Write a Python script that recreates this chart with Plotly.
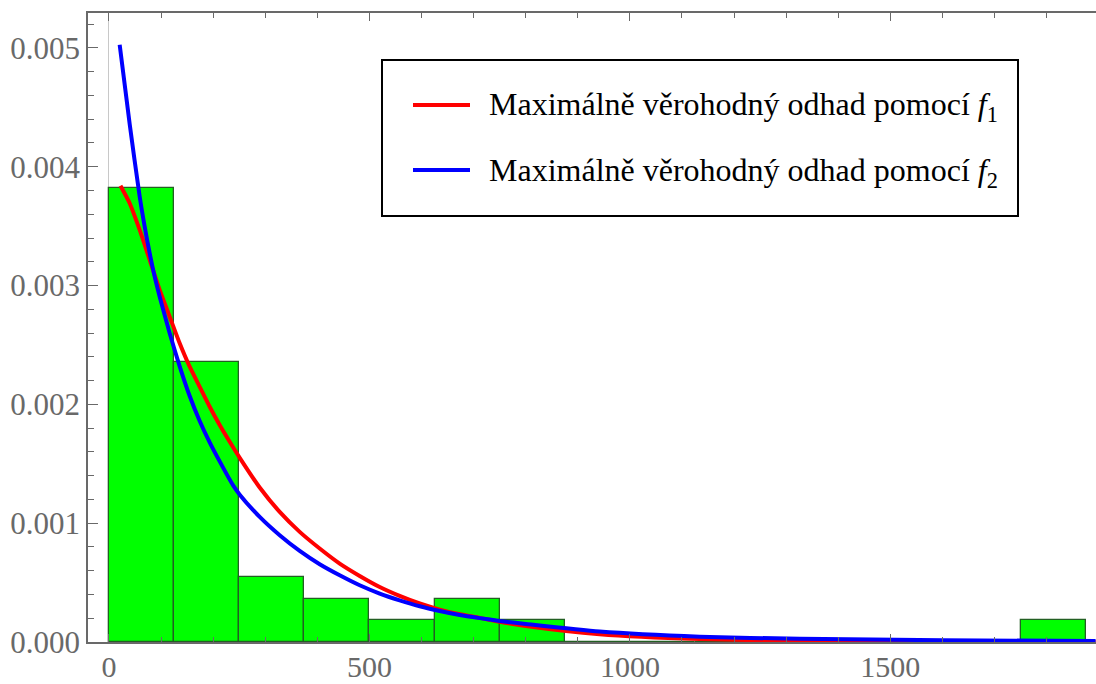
import plotly.graph_objects as go

# Histogram: bin edges and densities
bin_edges = [0, 125, 250, 375, 500, 625, 750, 875, 1000, 1125, 1250, 1375, 1500, 1625, 1750, 1875]
densities = [0.00382, 0.00236, 0.000546, 0.000364, 0.000182, 0.000364, 0.000182,
             0, 0, 0, 0, 0, 0, 0, 0.000182]

# ML estimate via f1 (red)
red_x = [22, 39.7, 58.9, 78.1, 97.3, 116.5, 135.7, 154.9, 174.1, 193.3, 212.5, 231.7, 251,
         289.3, 327.7, 366.1, 404.5, 442.9, 481.3, 519.7, 558, 596.5, 634.9, 673.3, 711.7,
         750, 800, 942, 1134, 1326, 1600, 1894]
red_y = [0.00384, 0.003693, 0.003468, 0.003216, 0.002963, 0.002738, 0.002514, 0.002317, 0.002148,
         0.00198, 0.001826, 0.001685, 0.00155,
         0.0013, 0.001095, 0.000927, 0.000787, 0.00066, 0.000556, 0.000463, 0.000388, 0.000324,
         0.000273, 0.000233, 0.000203,
         0.000170, 0.000135, 0.000066, 0.000025, 0.00001, 0.000003, 0.000001]

# ML estimate via f2 (blue)
blue_x = [20.5, 39.7, 58.9, 68.5, 78.1, 87.7, 97.3, 116.5, 135.7, 154.9, 174.1,
          193.3, 212.5, 238, 251, 289.3, 327.7, 366.1, 404.5, 442.9, 481.3, 519.7, 558, 596.5,
          634.9, 673.3, 711.7, 750, 800, 942, 1134, 1326, 1600, 1894]
blue_y = [0.005027, 0.00436, 0.00375, 0.003496, 0.003272, 0.003075, 0.002906, 0.002598,
          0.00232, 0.00207, 0.00186, 0.00168, 0.00152, 0.00132, 0.00124, 0.001053,
          0.000899, 0.000767, 0.000655, 0.000562, 0.000478, 0.000408, 0.000351, 0.000301, 0.000261,
          0.000227, 0.000201, 0.000177, 0.000152, 0.000088, 0.000045, 0.000027, 0.000015, 0.000008]

legend_labels = ["Maximálně věrohodný odhad pomocí <i>f</i><sub>1</sub>",
                 "Maximálně věrohodný odhad pomocí <i>f</i><sub>2</sub>"]

FONT = "Liberation Serif, Times New Roman, serif"
GRAY = "rgb(105,105,105)"

centers = [(bin_edges[i] + bin_edges[i + 1]) / 2 for i in range(len(densities))]
widths = [bin_edges[i + 1] - bin_edges[i] for i in range(len(densities))]

fig = go.Figure()
fig.add_trace(go.Bar(x=centers, y=densities, width=widths,
                     marker=dict(color="#00ff00", line=dict(color="rgb(35,95,35)", width=1.3)),
                     showlegend=False, hoverinfo="skip"))
fig.add_trace(go.Scatter(x=red_x, y=red_y, mode="lines", name=legend_labels[0],
                         line=dict(color="#ff0000", width=4, shape="spline", smoothing=0.6),
                         showlegend=False))
fig.add_trace(go.Scatter(x=blue_x, y=blue_y, mode="lines", name=legend_labels[1],
                         line=dict(color="#0000ff", width=4, shape="spline", smoothing=0.6),
                         showlegend=False))

W, H = 1096, 684
L, R, T, B = 88, 0, 13, 42
pw, ph = W - L - R, H - T - B

def px(p):
    return (p - L) / pw

def py(p):
    return (H - B - p) / ph

# Manual legend box
shapes = [
    dict(type="rect", xref="paper", yref="paper", x0=px(382), x1=px(1018), y0=py(216), y1=py(60),
         line=dict(color="black", width=2), fillcolor="white", layer="above"),
    dict(type="line", xref="paper", yref="paper", x0=px(413), x1=px(470), y0=py(105), y1=py(105),
         line=dict(color="#ff0000", width=4), layer="above"),
    dict(type="line", xref="paper", yref="paper", x0=px(413), x1=px(470), y0=py(170), y1=py(170),
         line=dict(color="#0000ff", width=4), layer="above"),
]
annotations = [
    dict(xref="paper", yref="paper", x=px(487), y=py(107), xanchor="left", yanchor="middle",
         text=legend_labels[0], showarrow=False, font=dict(family=FONT, size=32, color="black")),
    dict(xref="paper", yref="paper", x=px(487), y=py(172), xanchor="left", yanchor="middle",
         text=legend_labels[1], showarrow=False, font=dict(family=FONT, size=32, color="black")),
]

fig.update_layout(
    width=W, height=H,
    margin=dict(l=L, r=R, t=T, b=B, autoexpand=False),
    paper_bgcolor="white", plot_bgcolor="white",
    bargap=0,
    shapes=shapes, annotations=annotations,
    font=dict(family=FONT, size=31, color=GRAY),
)
fig.update_xaxes(
    range=[-40.3, 1894.8], tickvals=[0, 500, 1000, 1500], ticktext=["0", "500", "1000", "1500"],
    showline=True, linecolor=GRAY, linewidth=1.5, mirror="ticks",
    ticks="inside", ticklen=8, tickwidth=1.2, tickcolor=GRAY,
    minor=dict(dtick=100, tick0=0, ticks="inside", ticklen=5, tickwidth=1.2, tickcolor=GRAY, showgrid=False),
    showgrid=False, zeroline=True, zerolinecolor="rgb(200,200,200)", zerolinewidth=1,
    tickfont=dict(family=FONT, size=30, color=GRAY), automargin=False, ticklabelstandoff=-3,
)
fig.update_yaxes(
    range=[0, 0.005294], tickvals=[0, 0.001, 0.002, 0.003, 0.004, 0.005],
    ticktext=["0.000", "0.001", "0.002", "0.003", "0.004", "0.005"],
    showline=True, linecolor=GRAY, linewidth=1.5, mirror=False,
    ticks="inside", ticklen=10, tickwidth=1.2, tickcolor=GRAY,
    minor=dict(dtick=0.0002, tick0=0, ticks="inside", ticklen=6, tickwidth=1.2, tickcolor=GRAY, showgrid=False),
    showgrid=False, zeroline=False, automargin=False,
    tickfont=dict(family=FONT, size=31, color=GRAY),
)

fig.write_html("out.html", config={"displayModeBar": False},
               post_script="document.body.style.margin='0';document.body.style.padding='0';")
